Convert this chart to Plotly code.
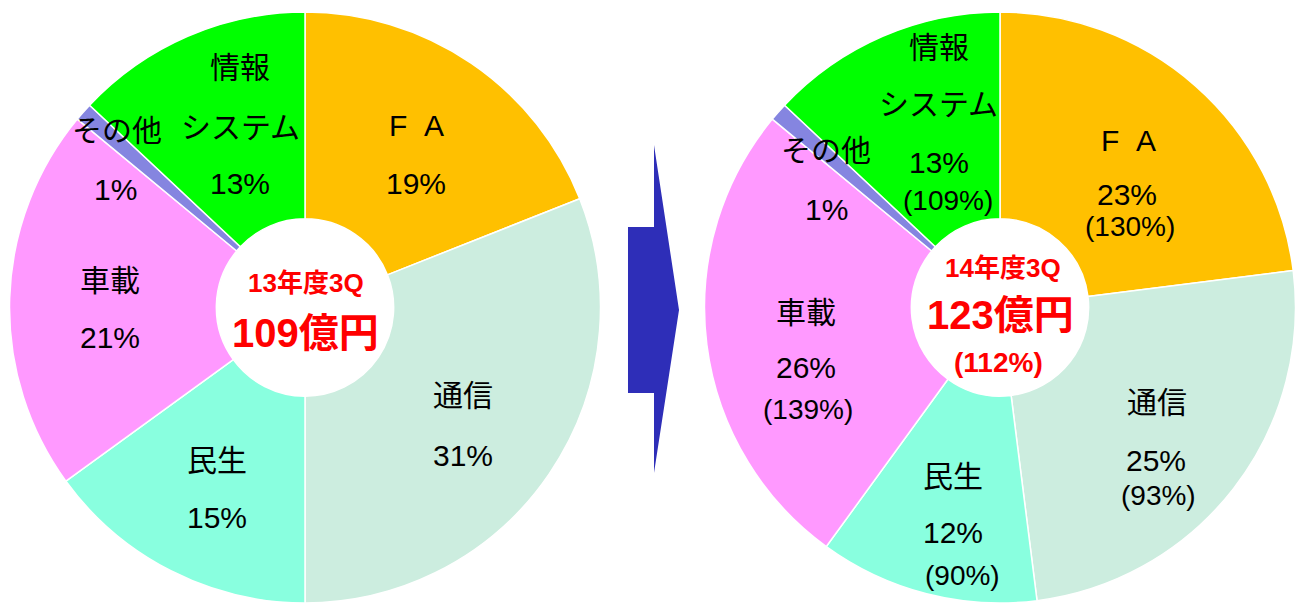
import plotly.graph_objects as go

# ---------------- data ----------------
segments = ["FA", "通信", "民生", "車載", "その他", "情報システム"]
colors = ["#FFC000", "#CCEDDF", "#89FFDF", "#FF99FF", "#8585E0", "#00FF00"]
share_13 = [19, 31, 15, 21, 1, 13]          # 13年度3Q 構成比 (%)
share_14 = [23, 25, 12, 26, 1, 13]          # 14年度3Q 構成比 (%)
yoy_14 = [130, 93, 90, 139, None, 109]      # 前年同期比 (%)
label_lines = [["F\u00a0\u00a0A"], ["通信"], ["民生"], ["車載"], ["その他"], ["情報", "システム"]]
total_13 = 109   # 億円
total_14 = 123   # 億円
total_yoy = 112  # %
period_13 = "13年度3Q"
period_14 = "14年度3Q"

W, H = 1303, 603
FONT = "Liberation Sans, Noto Sans CJK JP, Arial, sans-serif"

def px(x):
    return x / W

def py(y):
    return 1 - y / H

R = 296
TOP = 12
ydom = [0, 1 - TOP / H]
left_cx, right_cx = 305, 1000

fig = go.Figure()
for vals, cx in ((share_13, left_cx), (share_14, right_cx)):
    fig.add_trace(go.Pie(
        labels=segments, values=vals, sort=False, direction="clockwise",
        rotation=0, hole=0.30, textinfo="none", hoverinfo="label+percent",
        marker=dict(colors=colors, line=dict(color="white", width=1.5)),
        domain=dict(x=[px(cx - R), px(cx + R)], y=ydom), showlegend=False,
    ))

annotations = []

def add(text, x, y, size=30, color="black", bold=False):
    annotations.append(dict(
        text=f"<b>{text}</b>" if bold else text,
        x=px(x), y=py(y), xref="paper", yref="paper",
        xanchor="center", yanchor="middle", showarrow=False,
        font=dict(family=FONT, size=size, color=color),
    ))

# label positions (pixel centres) : name lines, share, yoy
pos_13 = {
    0: ([(417, 125)], (416, 183)),
    1: ([(463, 395)], (463, 455)),
    2: ([(217, 460)], (217, 517)),
    3: ([(110, 280)], (110, 337)),
    4: ([(117, 130)], (116, 189)),
    5: ([(240, 67), (240, 127)], (240, 183)),
}
pos_14 = {
    0: ([(1128, 141)], (1127, 194), (1130, 227)),
    1: ([(1157, 402)], (1156, 460), (1158, 495)),
    2: ([(953, 476)], (953, 532), (962, 575)),
    3: ([(806, 312)], (806, 367), (808, 409)),
    4: ([(826, 150)], (826, 210), None),
    5: ([(939, 48), (938, 105)], (939, 162), (948, 201)),
}

for i, lines in enumerate(label_lines):
    name_pos, share_pos = pos_13[i]
    for t, (x, y) in zip(lines, name_pos):
        add(t, x, y)
    add(f"{share_13[i]}%", *share_pos)

    name_pos, share_pos, yoy_pos = pos_14[i]
    for t, (x, y) in zip(lines, name_pos):
        add(t, x, y)
    add(f"{share_14[i]}%", *share_pos)
    if yoy_14[i] is not None and yoy_pos is not None:
        add(f"({yoy_14[i]}%)", *yoy_pos, size=28)

# centre texts
add(period_13, 306, 283, size=26, color="#FF0000", bold=True)
add(f"{total_13}億円", 305, 333, size=40, color="#FF0000", bold=True)
add(period_14, 1003, 268, size=26, color="#FF0000", bold=True)
add(f"{total_14}億円", 1001, 315, size=40, color="#FF0000", bold=True)
add(f"({total_yoy}%)", 998, 362, size=28, color="#FF0000", bold=True)

# arrow between the pies
pts = [(628, 227), (654, 227), (654, 145), (679, 310), (654, 473), (654, 393), (628, 393)]
path = "M " + " L ".join(f"{px(x):.5f},{py(y):.5f}" for x, y in pts) + " Z"
shapes = [dict(type="path", xref="paper", yref="paper", path=path,
               fillcolor="#2E2EB8", line=dict(width=0))]

fig.update_layout(
    width=W, height=H, margin=dict(l=0, r=0, t=0, b=0),
    paper_bgcolor="white", plot_bgcolor="white",
    annotations=annotations, shapes=shapes,
)
fig.write_html("out.html")
